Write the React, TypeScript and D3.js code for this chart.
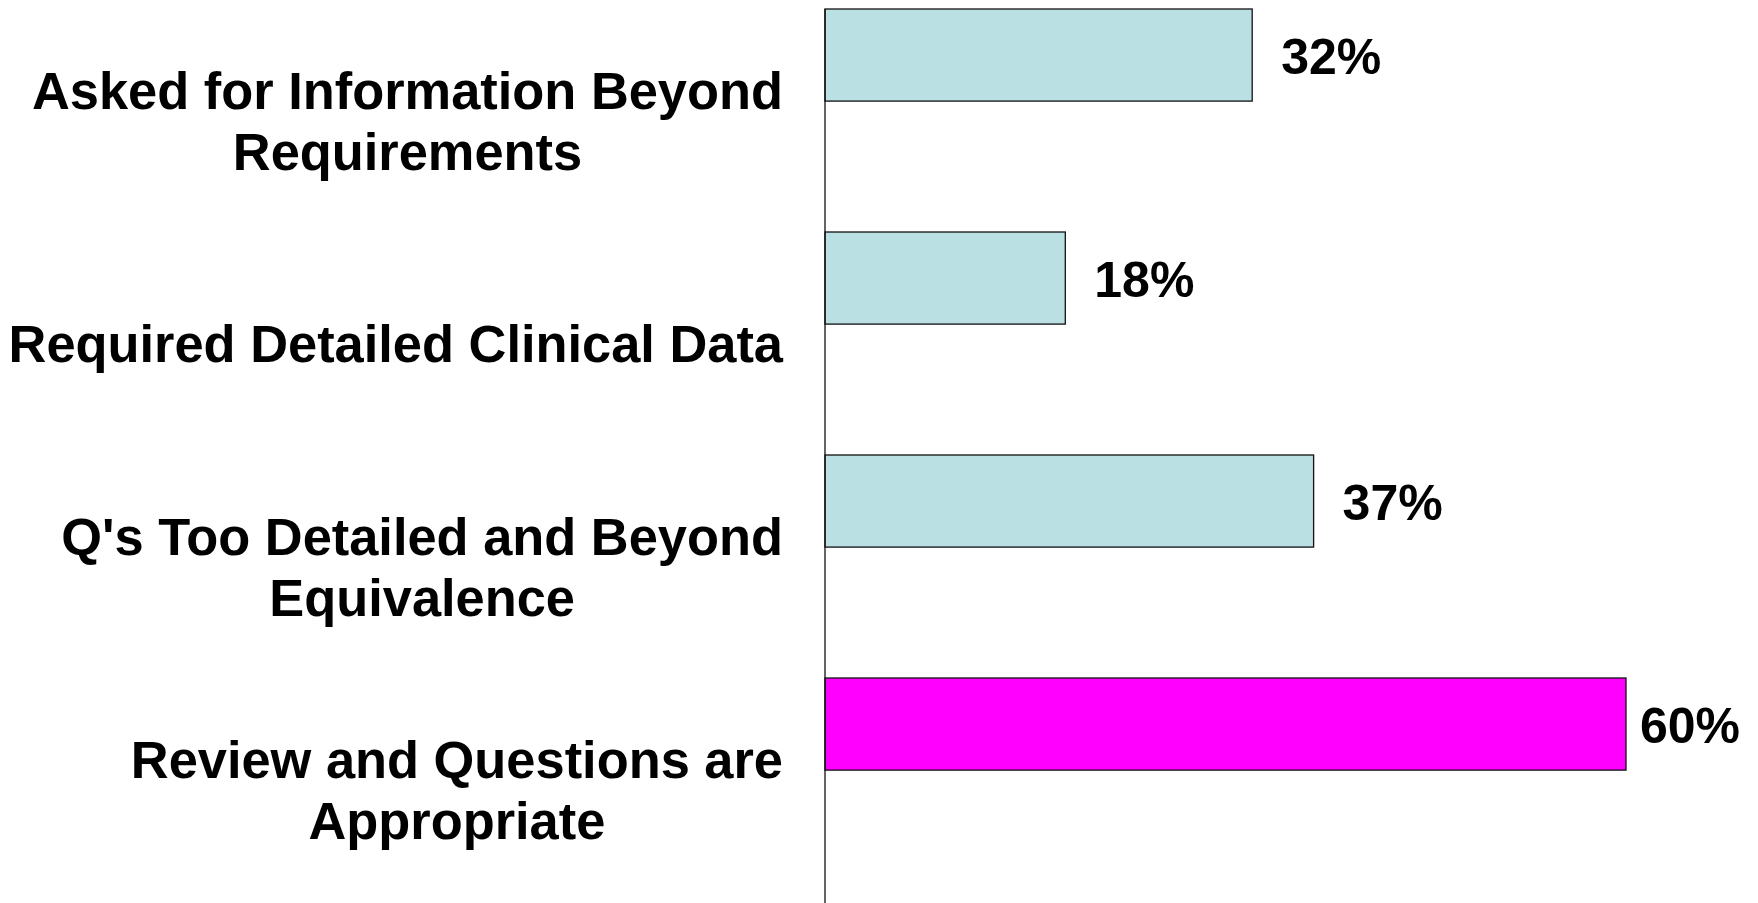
import React, { useEffect, useRef } from "react";
import * as d3 from "d3";

const categories = [
  "Asked for Information Beyond|Requirements",
  "Required Detailed Clinical Data",
  "Q's Too Detailed and Beyond|Equivalence",
  "Review and Questions are|Appropriate",
];
const values = [32, 18, 36.6, 60];
const valueLabels = ["32%", "18%", "37%", "60%"];
const barColors = ["#BBE0E3", "#BBE0E3", "#BBE0E3", "#FF00FF"];

const App = () => {
  const ref = useRef<SVGSVGElement>(null);

  useEffect(() => {
    const height = 903;
    const font = "'Liberation Sans', Arial, sans-serif";
    const svg = d3.select(ref.current);
    svg.selectAll("*").remove();

    const x = d3.scaleLinear().domain([0, 60]).range([825, 1626]);
    const y = d3.scaleBand().domain(categories).range([9, 901]).padding(0);
    const barH = y.bandwidth() * 0.413;

    // bars
    svg.append("g")
      .selectAll("rect")
      .data(categories)
      .join("rect")
      .attr("x", x(0))
      .attr("y", (d) => y(d))
      .attr("width", (d, i) => x(values[i]) - x(0))
      .attr("height", barH)
      .attr("fill", (d, i) => barColors[i])
      .attr("stroke", "#111")
      .attr("stroke-width", 1.3);

    // axis line
    svg.append("line")
      .attr("x1", x(0)).attr("x2", x(0))
      .attr("y1", y.range()[0]).attr("y2", height)
      .attr("stroke", "#111")
      .attr("stroke-width", 1.3);

    // value labels
    const labelRight = 1740;
    svg.append("g")
      .selectAll("text")
      .data(values)
      .join("text")
      .attr("x", (d) => x(d) + 29)
      .attr("y", (d, i) => y(categories[i]) + barH / 2 + 19)
      .attr("font-family", font)
      .attr("font-weight", "bold")
      .attr("font-size", 50)
      .attr("fill", "#000")
      .text((d, i) => valueLabels[i])
      .each(function () {
        const t = this as SVGTextElement;
        const w = t.getComputedTextLength();
        const x0 = +t.getAttribute("x");
        if (x0 + w > labelRight) t.setAttribute("x", String(labelRight - w));
      });

    // category labels: centered lines, block right edge at 783
    const blockRight = 783;
    const lineH = 61.5;
    categories.forEach((c) => {
      const lines = c.split("|");
      const g = svg.append("g");
      const cy = y(c) + y.bandwidth() / 2;
      const texts = g.selectAll("text")
        .data(lines)
        .join("text")
        .attr("y", (d, i) => cy + (i - (lines.length - 1) / 2) * lineH + 18.8)
        .attr("text-anchor", "middle")
        .attr("font-family", font)
        .attr("font-weight", "bold")
        .attr("font-size", 52.4)
        .attr("fill", "#000")
        .text((d) => d);
      let maxW = 0;
      texts.each(function () {
        maxW = Math.max(maxW, (this as SVGTextElement).getComputedTextLength());
      });
      texts.attr("x", blockRight - maxW / 2);
    });
  }, []);

  return (
    <svg
      ref={ref}
      width={1758}
      height={903}
      style={{ position: "absolute", left: 0, top: 0, background: "#fff" }}
    />
  );
};

export default App;
